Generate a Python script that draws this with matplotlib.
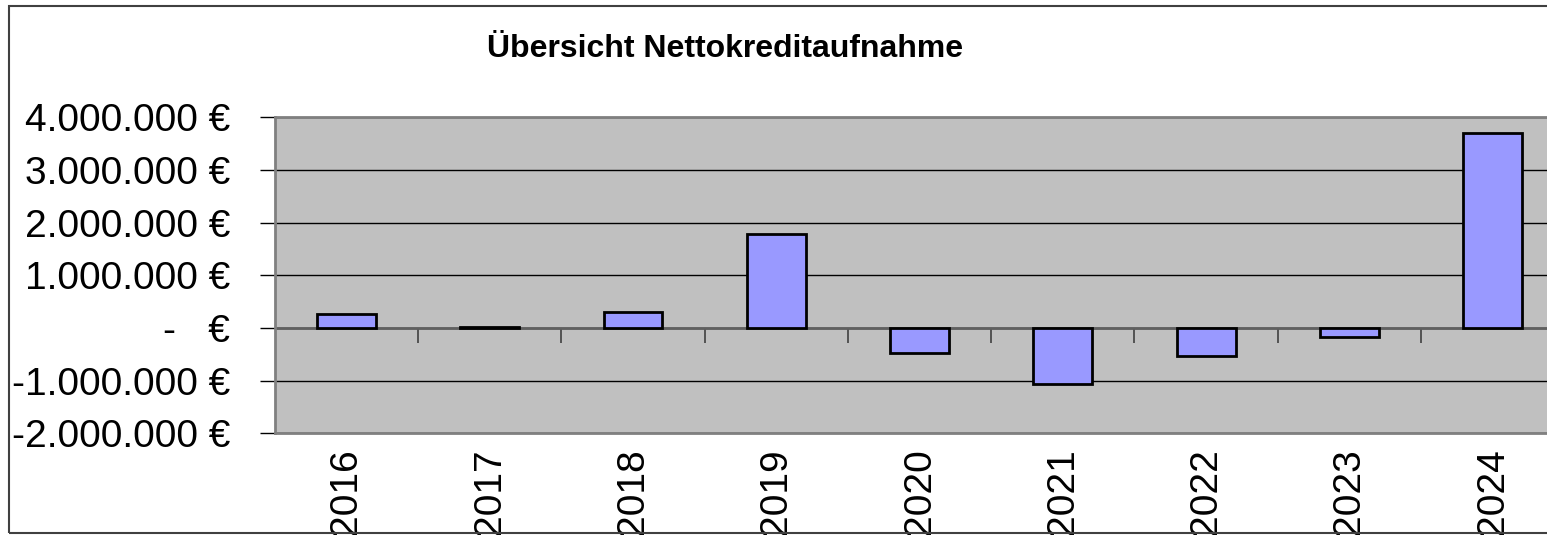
import matplotlib
matplotlib.use("Agg")
import matplotlib.pyplot as plt
from matplotlib.patches import Rectangle
from matplotlib.ticker import FuncFormatter, MultipleLocator

# Daten: Nettokreditaufnahme je Jahr (Euro)
jahre = ['2016', '2017', '2018', '2019', '2020', '2021', '2022', '2023', '2024']
werte = [270000, 12000, 300000, 1790000, -480000, -1070000, -540000, -180000, 3700000]

plt.rcParams['font.family'] = ['Liberation Sans', 'DejaVu Sans']

fig = plt.figure(figsize=(15.47, 5.35), dpi=100)
fig.patch.set_facecolor('white')

# Rahmen um das ganze Diagramm
fig.patches.append(Rectangle((9/1547, 1-533/535), 1.1, (533-5.5)/535, transform=fig.transFigure,
                             fill=False, edgecolor='#404040', linewidth=1.5))

ax = fig.add_axes([274.7/1547, 1-433.3/535, 1289.7/1547, (433.3-117.3)/535])
ax.set_facecolor('#C0C0C0')

x = list(range(len(jahre)))
ax.bar(x, werte, width=0.41, color='#9999FF', edgecolor='black', linewidth=2, zorder=3)

ymin, ymax = -2000000, 4000000
ax.set_ylim(ymin, ymax)
ax.set_xlim(-0.5, len(jahre) - 0.5)

# Gitterlinien
ax.yaxis.set_major_locator(MultipleLocator(1000000))
ax.grid(axis='y', color='black', linewidth=1.0, zorder=1)
ax.axhline(0, color='#606060', linewidth=2, zorder=2)

def euro(v, pos):
    if v == 0:
        return '-   €'
    return '{:,.0f} €'.format(v).replace(',', '.')

ax.yaxis.set_major_formatter(FuncFormatter(euro))
ax.tick_params(axis='y', direction='out', length=11, width=1, color='black', pad=21, labelsize=28)

# Jahres-Beschriftung unten
ax.set_xticks(x)
ax.set_xticklabels(jahre, rotation=90, fontsize=28, va='top')
ax.tick_params(axis='x', length=0, pad=11)

# Teilstriche an der Nulllinie
sec = ax.secondary_xaxis((0 - ymin) / (ymax - ymin))
sec.set_xticks([i + 0.5 for i in x[:-1]])
sec.set_xticklabels([])
sec.tick_params(axis='x', direction='out', length=11, width=1.2, color='#404040')
sec.spines['bottom'].set_visible(False)

for s in ['top', 'bottom', 'left', 'right']:
    ax.spines[s].set_color('#808080')
    ax.spines[s].set_linewidth(2)

fig.text(725/1547, 1-57/535, 'Übersicht Nettokreditaufnahme', ha='center', va='baseline',
         fontsize=23, fontweight='bold')

plt.savefig('out.png', dpi=100)
